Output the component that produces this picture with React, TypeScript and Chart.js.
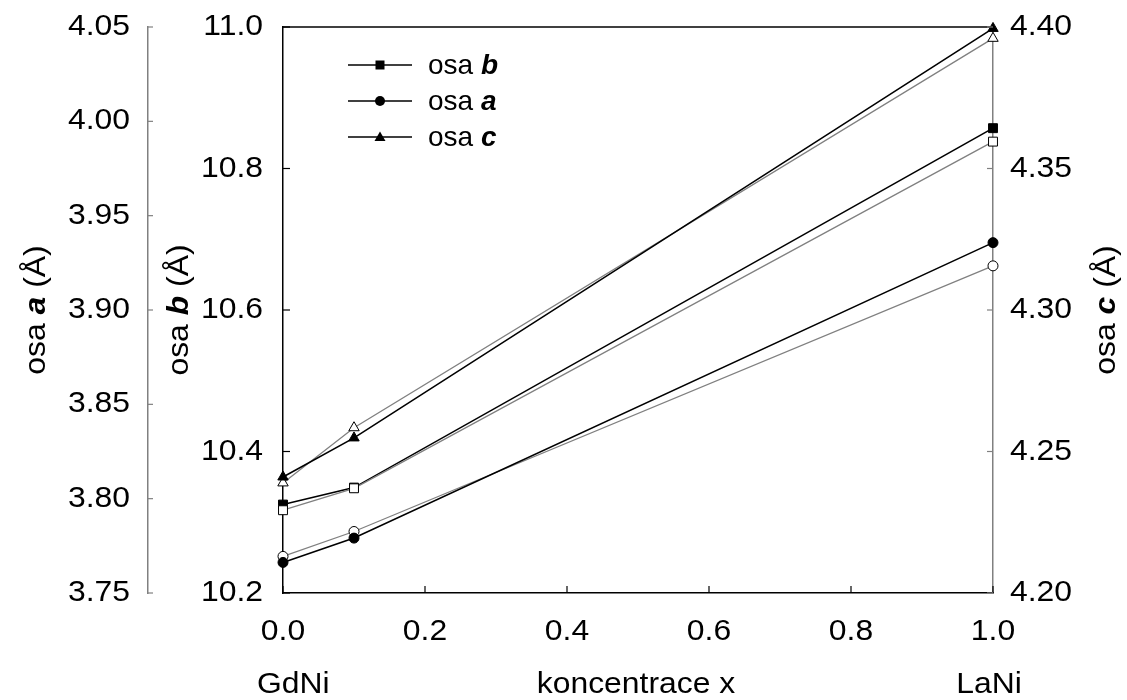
import { useEffect, useRef } from 'react';
import { Chart, registerables } from 'chart.js';

Chart.register(...registerables);

// ---- data ----
const xValues = [0, 0.1, 1.0];
const aFilled = [3.7662, 3.7791, 3.9357];
const aOpen = [3.7694, 3.7826, 3.9234];
const bFilled = [10.325, 10.349, 10.857];
const bOpen = [10.317, 10.348, 10.838];
const cFilled = [4.241, 4.2548, 4.3995];
const cOpen = [4.2389, 4.2584, 4.396];

const xTicks = [0, 0.2, 0.4, 0.6, 0.8, 1.0];
const aTicks = [3.75, 3.8, 3.85, 3.9, 3.95, 4.0, 4.05];
const bTicks = [10.2, 10.4, 10.6, 10.8, 11.0];
const cTicks = [4.2, 4.25, 4.3, 4.35, 4.4];

const legendItems = [
  { letter: 'b', shape: 'rect' },
  { letter: 'a', shape: 'circle' },
  { letter: 'c', shape: 'triangle' },
];

const FONT = '"Liberation Sans", Arial, sans-serif';
const FS = 29;
const normalFont = `${FS}px ${FONT}`;
const boldItalicFont = `italic bold ${FS}px ${FONT}`;
const legendFont = `28px ${FONT}`;
const legendBoldFont = `italic bold 28px ${FONT}`;
const STRETCH = 1.1;
const GRAY = '#808080';

const pts = (ys: number[]) => xValues.map((x, i) => ({ x, y: ys[i] }));

type Part = { text: string; font: string };

function drawParts(
  ctx: CanvasRenderingContext2D,
  parts: Part[],
  x: number,
  y: number,
  align: 'left' | 'center' | 'right',
  baseline: CanvasTextBaseline,
  rotate = false,
  stretch = STRETCH,
) {
  ctx.save();
  ctx.translate(x, y);
  if (rotate) ctx.rotate(-Math.PI / 2);
  ctx.scale(stretch, 1);
  let total = 0;
  const widths = parts.map((p) => {
    ctx.font = p.font;
    const w = ctx.measureText(p.text).width;
    total += w;
    return w;
  });
  let cx = align === 'center' ? -total / 2 : align === 'right' ? -total : 0;
  ctx.textAlign = 'left';
  ctx.textBaseline = baseline;
  ctx.fillStyle = '#000';
  parts.forEach((p, i) => {
    ctx.font = p.font;
    ctx.fillText(p.text, cx, 0);
    cx += widths[i];
  });
  ctx.restore();
}

function drawMarker(ctx: CanvasRenderingContext2D, shape: string, x: number, y: number) {
  ctx.save();
  ctx.fillStyle = '#000';
  ctx.beginPath();
  if (shape === 'rect') {
    ctx.rect(x - 4.5, y - 4.5, 9, 9);
  } else if (shape === 'circle') {
    ctx.arc(x, y, 5, 0, Math.PI * 2);
  } else {
    ctx.moveTo(x, y - 5.5);
    ctx.lineTo(x + 5.5, y + 4);
    ctx.lineTo(x - 5.5, y + 4);
    ctx.closePath();
  }
  ctx.fill();
  ctx.restore();
}

const decorPlugin = {
  id: 'decor',
  afterDraw(chart: any) {
    const ctx: CanvasRenderingContext2D = chart.ctx;
    const { left, right, top, bottom } = chart.chartArea;
    const sx = chart.scales.x;
    const sa = chart.scales.ya;
    const sb = chart.scales.yb;
    const sc = chart.scales.yc;

    ctx.save();
    // top frame line
    ctx.strokeStyle = '#000';
    ctx.lineWidth = 1.5;
    ctx.beginPath();
    ctx.moveTo(left, top);
    ctx.lineTo(right, top);
    ctx.stroke();

    // tick marks
    ctx.lineWidth = 1.2;
    ctx.strokeStyle = GRAY;
    aTicks.forEach((v) => {
      const y = sa.getPixelForValue(v);
      ctx.beginPath();
      ctx.moveTo(sa.right, y);
      ctx.lineTo(sa.right + 5, y);
      ctx.stroke();
    });
    ctx.strokeStyle = '#000';
    bTicks.forEach((v) => {
      const y = sb.getPixelForValue(v);
      ctx.beginPath();
      ctx.moveTo(left, y);
      ctx.lineTo(left + 7, y);
      ctx.stroke();
    });
    xTicks.forEach((v) => {
      const x = sx.getPixelForValue(v);
      ctx.beginPath();
      ctx.moveTo(x, bottom);
      ctx.lineTo(x, bottom - 7);
      ctx.stroke();
    });
    ctx.strokeStyle = GRAY;
    cTicks.forEach((v) => {
      const y = sc.getPixelForValue(v);
      ctx.beginPath();
      ctx.moveTo(right, y);
      ctx.lineTo(right - 6, y);
      ctx.stroke();
    });
    ctx.restore();

    // tick labels
    aTicks.forEach((v) => {
      drawParts(ctx, [{ text: v.toFixed(2), font: normalFont }], sa.right - 18, sa.getPixelForValue(v), 'right', 'middle');
    });
    bTicks.forEach((v) => {
      drawParts(ctx, [{ text: v.toFixed(1), font: normalFont }], left - 20, sb.getPixelForValue(v), 'right', 'middle');
    });
    cTicks.forEach((v) => {
      drawParts(ctx, [{ text: v.toFixed(2), font: normalFont }], right + 17, sc.getPixelForValue(v), 'left', 'middle');
    });
    xTicks.forEach((v) => {
      drawParts(ctx, [{ text: v.toFixed(1), font: normalFont }], sx.getPixelForValue(v), bottom + 47, 'center', 'alphabetic');
    });

    // axis titles
    const midY = (top + bottom) / 2;
    const title = (l: string): Part[] => [
      { text: 'osa ', font: normalFont },
      { text: l, font: boldItalicFont },
      { text: ' (Å)', font: normalFont },
    ];
    drawParts(ctx, title('a'), sa.left + 45, midY, 'center', 'alphabetic', true);
    drawParts(ctx, title('b'), sb.left + 40, midY, 'center', 'alphabetic', true);
    drawParts(ctx, title('c'), sc.right - 12, midY, 'center', 'alphabetic', true);

    // bottom labels
    const baseY = bottom + 100;
    drawParts(ctx, [{ text: 'GdNi', font: normalFont }], sx.getPixelForValue(0) - 26, baseY, 'left', 'alphabetic');
    drawParts(ctx, [{ text: 'koncentrace x', font: normalFont }], (left + right) / 2 - 2, baseY, 'center', 'alphabetic');
    drawParts(ctx, [{ text: 'LaNi', font: normalFont }], sx.getPixelForValue(1) - 4, baseY, 'center', 'alphabetic');

    // legend
    const lx0 = left + 65;
    const ly0 = top + 38;
    legendItems.forEach((it, i) => {
      const y = ly0 + i * 36;
      ctx.save();
      ctx.strokeStyle = '#000';
      ctx.lineWidth = 1.3;
      ctx.beginPath();
      ctx.moveTo(lx0, y);
      ctx.lineTo(lx0 + 64, y);
      ctx.stroke();
      ctx.restore();
      drawMarker(ctx, it.shape, lx0 + 32, y);
      drawParts(
        ctx,
        [
          { text: 'osa ', font: legendFont },
          { text: it.letter, font: legendBoldFont },
        ],
        lx0 + 80,
        y + 1,
        'left',
        'middle',
        false,
        1,
      );
    });
  },
};

function filledSet(data: number[], axis: string, style: string, radius: number) {
  return {
    data: pts(data),
    yAxisID: axis,
    borderColor: '#000',
    borderWidth: 1.6,
    pointStyle: style,
    pointRadius: radius,
    pointBackgroundColor: '#000',
    pointBorderColor: '#000',
    pointBorderWidth: 1,
    clip: false,
    tension: 0,
  };
}
function openSet(data: number[], axis: string, style: string, radius: number) {
  return {
    data: pts(data),
    yAxisID: axis,
    borderColor: GRAY,
    borderWidth: 1.3,
    pointStyle: style,
    pointRadius: radius,
    pointBackgroundColor: '#fff',
    pointBorderColor: '#000',
    pointBorderWidth: 1,
    clip: false,
    tension: 0,
  };
}

function yScale(ticks: number[], position: string, weight: number, width: number, color: string) {
  return {
    type: 'linear',
    position,
    weight,
    min: ticks[0],
    max: ticks[ticks.length - 1],
    afterBuildTicks: (s: any) => {
      s.ticks = ticks.map((v) => ({ value: v }));
    },
    afterFit: (s: any) => {
      s.width = width;
    },
    grid: { display: false, drawTicks: false },
    border: { display: true, color, width: 1.5 },
    ticks: { display: false },
  };
}

export default function App() {
  const ref = useRef<HTMLCanvasElement | null>(null);
  useEffect(() => {
    document.body.style.margin = '0';
    const canvas = ref.current;
    if (!canvas) return;
    const chart = new Chart(canvas, {
      type: 'line',
      data: {
        datasets: [
          filledSet(cFilled, 'yc', 'triangle', 6),
          openSet(cOpen, 'yc', 'triangle', 6),
          openSet(bOpen, 'yb', 'rect', 6.3),
          filledSet(bFilled, 'yb', 'rect', 6.3),
          filledSet(aFilled, 'ya', 'circle', 5),
          openSet(aOpen, 'ya', 'circle', 5),
        ] as any,
      },
      options: {
        animation: false,
        responsive: true,
        maintainAspectRatio: false,
        events: [],
        layout: { padding: { top: 27, left: 0, right: 0, bottom: 0 } },
        plugins: { legend: { display: false }, tooltip: { enabled: false } },
        scales: {
          x: {
            type: 'linear',
            min: 0,
            max: 1,
            afterBuildTicks: (s: any) => {
              s.ticks = xTicks.map((v) => ({ value: v }));
            },
            afterFit: (s: any) => {
              s.height = 107;
            },
            grid: { display: false, drawTicks: false },
            border: { display: true, color: '#000', width: 1.5 },
            ticks: { display: false },
          },
          ya: yScale(aTicks, 'left', 2, 148, GRAY),
          yb: yScale(bTicks, 'left', 1, 135, '#000'),
          yc: yScale(cTicks, 'right', 1, 134, GRAY),
        } as any,
      },
      plugins: [decorPlugin],
    });
    return () => chart.destroy();
  }, []);
  return (
    <div style={{ position: 'relative', width: 1127, height: 700 }}>
      <canvas ref={ref} />
    </div>
  );
}
